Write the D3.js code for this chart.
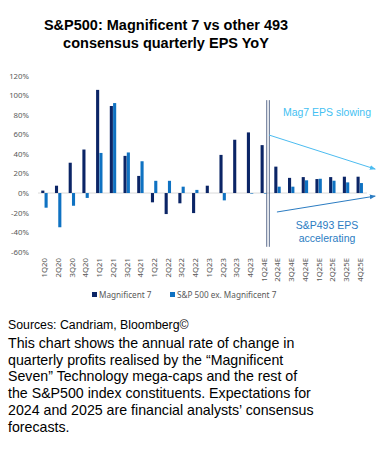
<!DOCTYPE html>
<html>
<head>
<meta charset="utf-8">
<script src="https://cdn.jsdelivr.net/npm/d3@7"></script>
<style>
  body { margin: 0; background: #fff; }
  svg { display: block; }
</style>
</head>
<body>
<svg width="386" height="458"></svg>
<script>
'use strict';

// quarters, 1Q20 .. 4Q25E
var quarters = ['1Q20','2Q20','3Q20','4Q20','1Q21','2Q21','3Q21','4Q21',
    '1Q22','2Q22','3Q22','4Q22','1Q23','2Q23','3Q23','4Q23',
    '1Q24E','2Q24E','3Q24E','4Q24E','1Q25E','2Q25E','3Q25E','4Q25E'];

// YoY EPS growth, %
var mag7 = [2.5, 7.5, 31, 44.5, 105.5, 89, 38, 17.5,
    -9.5, -21.5, -10.5, -20.5, 7.5, 39, 54.5, 62,
    49, 27, 15.5, 16.3, 14.3, 16.3, 16.7, 16.7];
var sp493 = [-15, -35, -13, -5, 41, 92, 41.5, 32.5,
    12.5, 12.5, 6.5, 3.2, 0, -7.5, 0, -0.6,
    -0.6, 6.5, 6.5, 13, 14.6, 12.6, 10.9, 10.2];

var yTicks = [-60, -40, -20, 0, 20, 40, 60, 80, 100, 120];
var seriesNames = ['Magnificent 7', 'S&P 500 ex. Magnificent 7'];
var seriesColors = ['#0b2566', '#0f72c2'];

var titleLines = ['S&P500: Magnificent 7 vs other 493', 'consensus quarterly EPS YoY'];
var sourceText = 'Sources: Candriam, Bloomberg\u00a9';
var bodyLines = [
    'This chart shows the annual rate of change in',
    'quarterly profits realised by the \u201cMagnificent',
    'Seven\u201d Technology mega-caps and the rest of',
    'the S&P500 index constituents. Expectations for',
    '2024 and 2025 are financial analysts\u2019 consensus',
    'forecasts.'
];

// annotation arrows, in quarter units / percent
var slowArrow = [[16.86, 59.3], [24.6, 24.5]];
var accelArrow = [[17.43, -19.4], [24.6, -3.1]];

var svg = d3.select('svg');
var tickFont = '"Noto Sans", "Open Sans", sans-serif';
var arial = '"Liberation Sans", Arial, sans-serif';

svg.append('rect').attr('width', 386).attr('height', 458).attr('fill', '#fff');

var x = d3.scaleBand().domain(quarters).range([38, 367]).padding(0);
var xi = d3.scaleLinear().domain([0, quarters.length]).range([38, 367]);
var y = d3.scaleLinear().domain([-60, 120]).range([251.7, 75.7]);
var sub = d3.scaleBand().domain([0, 1]).range([-3.6, 2.8]).paddingInner(0.06);

//title
svg.append('g').selectAll('text')
    .data(titleLines)
    .enter()
    .append('text')
    .attr('x', 166)
    .attr('y', function(d, i) { return 30 + i * 18; })
    .attr('text-anchor', 'middle')
    .attr('font-family', arial)
    .attr('font-weight', 'bold')
    .attr('font-size', 14.5)
    .attr('fill', '#000')
    .text(function(d) { return d; });

//axis y
var axisY = d3.axisLeft(y)
    .tickValues(yTicks)
    .tickSize(0)
    .tickPadding(0)
    .tickFormat(function(d) { return d + '%'; });

var gy = svg.append('g')
    .attr('transform', 'translate(29,0)')
    .call(axisY);
gy.select('.domain').remove();
gy.selectAll('text')
    .attr('font-family', tickFont)
    .attr('font-size', 7.8)
    .attr('fill', '#595959');

//zero line
svg.append('line')
    .attr('x1', 38).attr('x2', 367)
    .attr('y1', y(0)).attr('y2', y(0))
    .attr('stroke', '#d9d9d9')
    .attr('stroke-width', 1);

//bars
var series = [mag7, sp493];
series.forEach(function(vals, s) {
    svg.append('g').selectAll('rect')
        .data(vals)
        .enter()
        .append('rect')
        .attr('x', function(d, i) { return x(quarters[i]) + x.bandwidth() / 2 + sub(s); })
        .attr('width', sub.bandwidth())
        .attr('y', function(d) { return y(Math.max(0, d)); })
        .attr('height', function(d) { return Math.abs(y(d) - y(0)); })
        .attr('fill', seriesColors[s]);
});

//axis x
var axisX = d3.axisBottom(x).tickSize(0).tickPadding(0);
var gx = svg.append('g')
    .attr('transform', 'translate(0,258)')
    .call(axisX);
gx.select('.domain').remove();
gx.selectAll('text')
    .attr('font-family', tickFont)
    .attr('font-size', 7.8)
    .attr('fill', '#595959')
    .attr('text-anchor', 'end')
    .attr('dy', '0.32em')
    .attr('transform', 'rotate(-90)')
    .attr('x', 0)
    .attr('y', 0);

//forecast divider
var divX = x('1Q24E') + x.bandwidth();
[-4.3, -1.7].forEach(function(off) {
    svg.append('line')
        .attr('x1', divX + off).attr('x2', divX + off)
        .attr('y1', y(95)).attr('y2', y(-55))
        .attr('stroke', '#5b6b8c')
        .attr('stroke-width', 1);
});

//arrows
var defs = svg.append('defs');
function marker(id, color) {
    defs.append('marker')
        .attr('id', id)
        .attr('viewBox', '0 0 10 10')
        .attr('refX', 9).attr('refY', 5)
        .attr('markerWidth', 6).attr('markerHeight', 6)
        .attr('markerUnits', 'userSpaceOnUse')
        .attr('orient', 'auto')
        .append('path')
        .attr('d', 'M0,1 L10,5 L0,9 Z')
        .attr('fill', color);
}
marker('ar-light', '#4cbcf0');
marker('ar-dark', '#2b7cc2');

var arrowLine = d3.line()
    .x(function(d) { return xi(d[0]); })
    .y(function(d) { return y(d[1]); });

svg.append('path')
    .datum(slowArrow)
    .attr('d', arrowLine)
    .attr('stroke', '#4cbcf0')
    .attr('stroke-width', 1)
    .attr('fill', 'none')
    .attr('marker-end', 'url(#ar-light)');

svg.append('path')
    .datum(accelArrow)
    .attr('d', arrowLine)
    .attr('stroke', '#2b7cc2')
    .attr('stroke-width', 1)
    .attr('fill', 'none')
    .attr('marker-end', 'url(#ar-dark)');

svg.append('text')
    .attr('x', 327).attr('y', 116)
    .attr('text-anchor', 'middle')
    .attr('font-family', arial)
    .attr('font-size', 10.5)
    .attr('fill', '#45bff2')
    .text('Mag7 EPS slowing');

svg.append('g').selectAll('text')
    .data(['S&P493 EPS', 'accelerating'])
    .enter()
    .append('text')
    .attr('x', 327)
    .attr('y', function(d, i) { return 229 + i * 12.5; })
    .attr('text-anchor', 'middle')
    .attr('font-family', arial)
    .attr('font-size', 10.5)
    .attr('fill', '#2b7cc2')
    .text(function(d) { return d; });

//legend
var legendX = [92, 170];
var legend = svg.append('g');
seriesNames.forEach(function(name, i) {
    legend.append('rect')
        .attr('x', legendX[i]).attr('y', 292)
        .attr('width', 5).attr('height', 5)
        .attr('fill', seriesColors[i]);
    legend.append('text')
        .attr('x', legendX[i] + 7).attr('y', 297.5)
        .attr('font-family', tickFont)
        .attr('font-size', 8.2)
        .attr('fill', '#595959')
        .text(name);
});

//notes
svg.append('text')
    .attr('x', 8).attr('y', 329)
    .attr('font-family', arial)
    .attr('font-size', 12.3)
    .attr('fill', '#000')
    .text(sourceText);

svg.append('g').selectAll('text')
    .data(bodyLines)
    .enter()
    .append('text')
    .attr('x', 8)
    .attr('y', function(d, i) { return 348 + i * 16.7; })
    .attr('font-family', arial)
    .attr('font-size', 14.2)
    .attr('fill', '#000')
    .text(function(d) { return d; });
</script>
</body>
</html>
